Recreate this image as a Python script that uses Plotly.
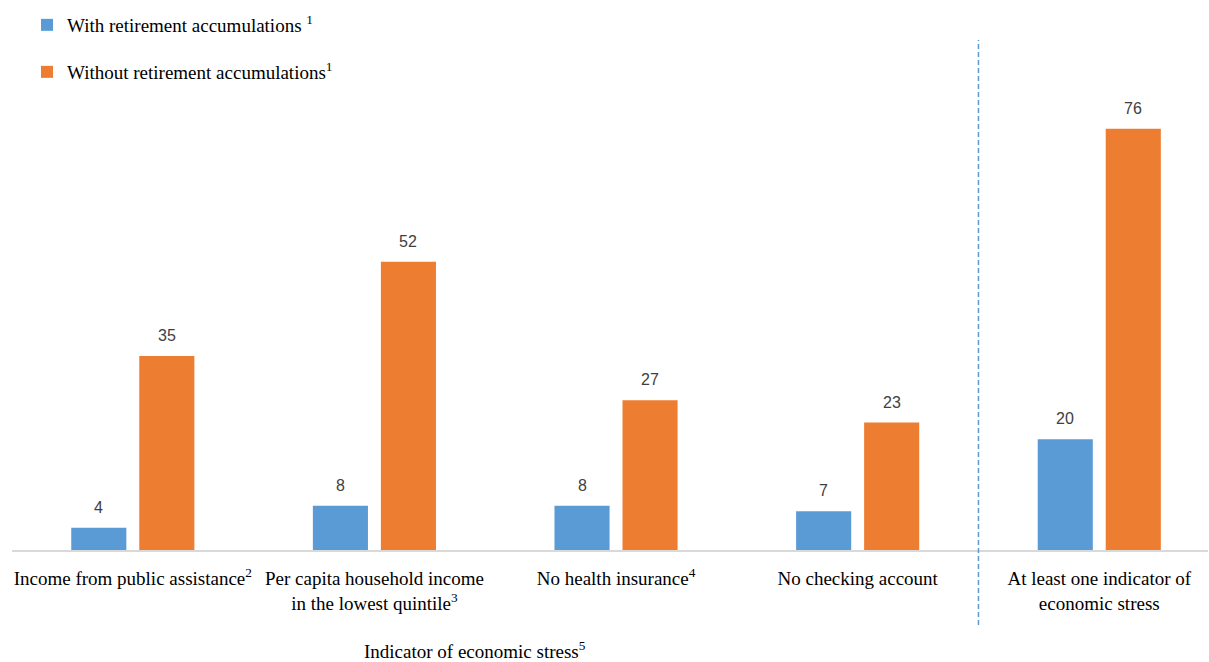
import plotly.graph_objects as go

categories = [
    "Income from public assistance<sup>2</sup>",
    "Per capita household income<br>in the lowest quintile<sup>3</sup>",
    "No health insurance<sup>4</sup>",
    "No checking account",
    "At least one indicator of<br>economic stress",
]
with_ret = [4, 8, 8, 7, 20]
without_ret = [35, 52, 27, 23, 76]
series_names = ["With retirement accumulations <sup>1</sup>",
                "Without retirement accumulations<sup>1</sup>"]

BLUE = "#5b9bd5"
ORANGE = "#ed7d31"
SERIF = "Liberation Serif, Times New Roman, serif"
SANS = "Liberation Sans, Arial, sans-serif"

fig = go.Figure()
fig.add_trace(go.Bar(x=list(range(len(categories))), y=with_ret, name=series_names[0],
                     marker=dict(color=BLUE, line=dict(width=0)), legend="legend"))
fig.add_trace(go.Bar(x=list(range(len(categories))), y=without_ret, name=series_names[1],
                     marker=dict(color=ORANGE, line=dict(width=0)), legend="legend2"))

bargap = 0.437
off = (1 - bargap) / 4
annotations = []
for i, (a, b) in enumerate(zip(with_ret, without_ret)):
    for xv, v in ((i - off, a), (i + off, b)):
        annotations.append(dict(x=xv, y=v, xref="x", yref="y", text=str(v), showarrow=False,
                                yanchor="bottom", yshift=10,
                                font=dict(family=SANS, size=16, color="#404040")))
annotations.append(dict(x=(475 - 12) / 1196, y=(550 - 650) / 510, xref="paper", yref="paper",
                        text="Indicator of economic stress<sup>5</sup>", showarrow=False,
                        xanchor="center", yanchor="middle",
                        font=dict(family=SERIF, size=19, color="#000000")))

fig.update_layout(
    width=1209, height=662,
    margin=dict(l=12, r=1, t=40, b=112, autoexpand=False),
    plot_bgcolor="white", paper_bgcolor="white",
    barmode="group", bargap=bargap, bargroupgap=0.19,
    showlegend=True,
    legend=dict(x=27 / 1209, y=1 - 25 / 662, xref="container", yref="container",
                xanchor="left", yanchor="middle", bgcolor="rgba(0,0,0,0)",
                font=dict(family=SERIF, size=19, color="#000000")),
    legend2=dict(x=27 / 1209, y=1 - 72 / 662, xref="container", yref="container",
                 xanchor="left", yanchor="middle", bgcolor="rgba(0,0,0,0)",
                 font=dict(family=SERIF, size=19, color="#000000")),
    xaxis=dict(tickmode="array", tickvals=list(range(len(categories))), ticktext=categories,
               range=[-0.5, 4.45], showline=True, linecolor="#d9d9d9", linewidth=2,
               showgrid=False, zeroline=False, ticks="", ticklabelstandoff=10,
               tickangle=0, automargin=False,
               tickfont=dict(family=SERIF, size=19, color="#000000")),
    yaxis=dict(range=[0, 92], visible=False, showgrid=False, zeroline=False, automargin=False),
    annotations=annotations,
    shapes=[dict(type="line", xref="x", yref="paper", x0=3.5, x1=3.5,
                 y0=(550 - 625) / 510, y1=1.0,
                 line=dict(color=BLUE, width=1.5, dash="5px,3px"))],
)

fig.write_html("out.html")
